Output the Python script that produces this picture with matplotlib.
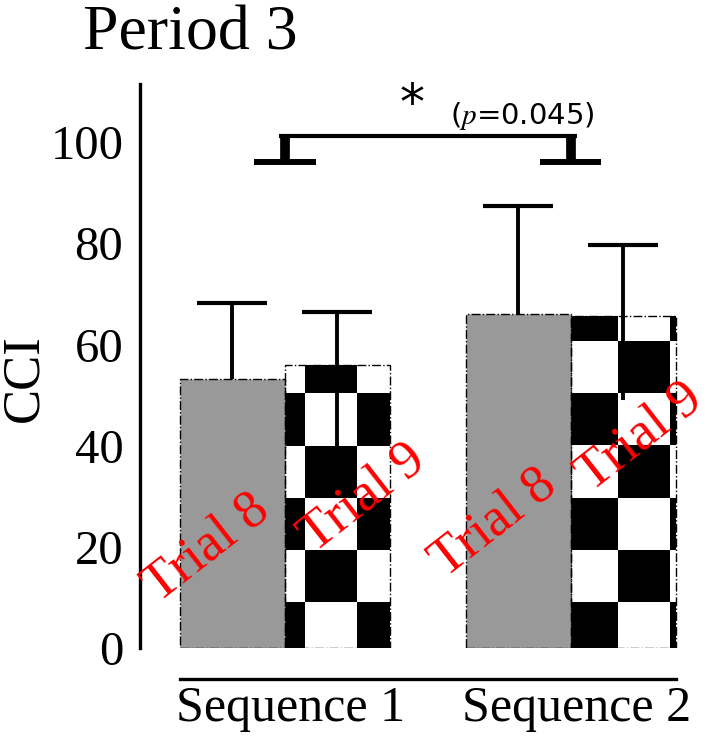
import numpy as np
import matplotlib.pyplot as plt
from matplotlib.colors import ListedColormap

# data
groups = ["Sequence 1", "Sequence 2"]
trial8_mean = [53.1, 66.0]
trial9_mean = [55.9, 65.7]
trial8_err_up = [15.1, 21.3]
trial9_err_up = [10.6, 14.0]
trial9_err_down = [16.0, 16.7]
yticks = [0, 20, 40, 60, 80, 100]
p_text = r"($p$=0.045)"

serif = "Liberation Serif"

fig = plt.figure(figsize=(7.14, 7.43), dpi=100)
ax = fig.add_axes([140 / 714, 95 / 743, 565 / 714, 564 / 743])

# spines first (moving a spine resets the ticks)
for s in ["top", "right"]:
    ax.spines[s].set_visible(False)
ax.spines["left"].set_linewidth(2.4)
ax.spines["bottom"].set_linewidth(2.4)
ax.spines["bottom"].set_position(("outward", 22))

x = np.arange(len(groups))
w = 0.367
x8 = x - w / 2
x9 = x + w / 2

# gray bars
ax.bar(x8, trial8_mean, w, color="#999999", edgecolor="black",
       linestyle="-.", linewidth=1.0, zorder=2)

# checkerboard bars: an image clipped by each bar
cell_x, cell_y = 0.1825, 10.3
x0, y0 = 0.070 - 3 * cell_x, 9.1 - cell_y
nx, ny = 12, 9
jj, ii = np.indices((ny, nx))
checker = (ii + jj) % 2
cmap = ListedColormap(["black", "white"])
bars9 = ax.bar(x9, trial9_mean, w, facecolor="none", edgecolor="black",
               linestyle="-.", linewidth=1.0, zorder=3)
for b in bars9:
    im = ax.imshow(checker, cmap=cmap, origin="lower", aspect="auto",
                   interpolation="nearest",
                   extent=(x0, x0 + nx * cell_x, y0, y0 + ny * cell_y),
                   zorder=1)
    im.set_clip_path(b)

# error bars (no lower caps)
eb8 = ax.errorbar(x8, trial8_mean, yerr=[np.zeros(2), trial8_err_up], fmt="none",
                  ecolor="black", elinewidth=2.8, capsize=25, capthick=3, zorder=1.5)
eb9 = ax.errorbar(x9, trial9_mean, yerr=[trial9_err_down, trial9_err_up], fmt="none",
                  ecolor="black", elinewidth=2.8, capsize=25, capthick=3, zorder=4)
for eb in (eb8, eb9):
    eb[1][0].set_visible(False)

# red labels
lab_x = [x8[0] - 0.09, x9[0] + 0.09, x8[1] - 0.085, x9[1] + 0.06]
lab_y = [19.5, 29.5, 24.5, 41.5]
lab_t = ["Trial 8", "Trial 9", "Trial 8", "Trial 9"]
for lx, ly, lt in zip(lab_x, lab_y, lab_t):
    ax.text(lx, ly, lt, color="red", fontsize=39, family=serif,
            rotation=38, ha="center", va="center", zorder=5)

# significance bracket
top, low = 101.3, 96.1
ax.plot([x[0] - 0.02, x[1] + 0.02], [top, top], color="black", lw=3,
        solid_capstyle="butt", clip_on=False)
for xc in x:
    ax.plot([xc, xc], [low, top], color="black", lw=7,
            solid_capstyle="butt", clip_on=False)
    ax.plot([xc - 0.107, xc + 0.107], [low, low], color="black", lw=4.3,
            solid_capstyle="butt", clip_on=False)
ax.text(0.445, 107.3, "*", fontsize=36, family="DejaVu Sans",
        ha="center", va="center")
ax.text(0.83, 105.1, p_text, fontsize=21, family="DejaVu Sans",
        math_fontfamily="stix", ha="center", va="center")

ax.set_xlim(-0.507, 1.469)
ax.set_ylim(0, 111.5)
ax.spines["bottom"].set_bounds(x8[0] - w / 2, x9[1] + w / 2)
ax.set_yticks(yticks)
ax.set_yticklabels([str(t) for t in yticks], family=serif, fontsize=35)
ax.set_xticks(x + 0.02)
ax.set_xticklabels(groups, family=serif, fontsize=36)
ax.tick_params(axis="y", length=0, pad=12)
ax.tick_params(axis="x", length=0, pad=5)

fig.text(24 / 714, 1 - 378 / 743, "CCI", family=serif, fontsize=38,
         rotation=90, ha="center", va="center")
fig.text(83 / 714, 1 - 50 / 743, "Period 3", family=serif, fontsize=46,
         ha="left", va="baseline")

fig.savefig("out.png", dpi=100)
